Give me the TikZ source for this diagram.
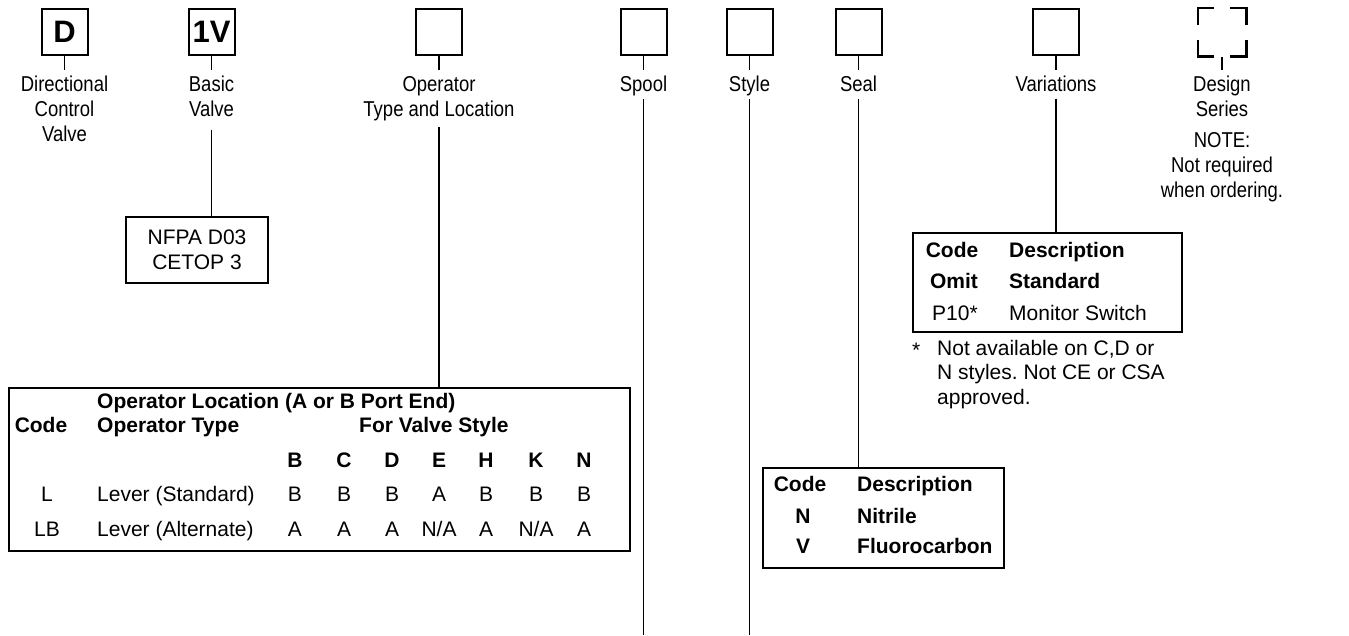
\documentclass[tikz,border=0pt]{standalone}
\usepackage{fontspec}
\setmainfont{Liberation Sans}
\newfontfamily\narrowfont[FakeStretch=0.86]{Liberation Sans}
\newcommand\myst{\rule{0pt}{16pt}}
\frenchspacing
\begin{document}
\begin{tikzpicture}[x=1pt,y=-1pt,
  lbl/.style={anchor=north, inner sep=0pt, align=center, font=\narrowfont\fontsize{21.5}{25}\selectfont},
  codebox/.style={draw, line width=2pt, minimum width=46pt, minimum height=46pt, inner sep=0pt, font=\bfseries\fontsize{31}{31}\selectfont},
  dsbox/.style={minimum width=48pt, minimum height=48pt, inner sep=0pt},
  corner/.style={line width=2.6pt},
  conn/.style={line width=1.9pt},
  tbox/.style={draw, line width=2pt, inner sep=0pt, anchor=north west},
  tx/.style={inner sep=0pt, font=\fontsize{21}{24.5}\selectfont},
  tb/.style={inner sep=0pt, font=\bfseries\fontsize{21}{24.5}\selectfont}]
\fill[white] (0,0) rectangle (1349,635);
\useasboundingbox (0,0) rectangle (1349,635);

% ---- code boxes
\node[codebox] (bD)  at (64.5,31.5) {D};
\node[codebox] (b1V) at (211.5,31.5) {1V};
\node[codebox] (bOp) at (439,31.5) {};
\node[codebox] (bSp) at (643.5,31.5) {};
\node[codebox] (bSt) at (749.5,31.5) {};
\node[codebox] (bSe) at (858.5,31.5) {};
\node[codebox] (bVa) at (1056,31.5) {};
\node[dsbox]   (bDs) at (1222,32) {};
\draw[corner] ([yshift=-17pt]bDs.north west) -- (bDs.north west) -- ([xshift=16pt]bDs.north west);
\draw[corner] ([yshift=-17pt]bDs.north east) -- (bDs.north east) -- ([xshift=-16pt]bDs.north east);
\draw[corner] ([yshift=16pt]bDs.south west) -- (bDs.south west) -- ([xshift=16pt]bDs.south west);
\draw[corner] ([yshift=16pt]bDs.south east) -- (bDs.south east) -- ([xshift=-16pt]bDs.south east);

% ---- labels
\node[lbl] (lD)  at (64.5,75)  {\myst Directional\\Control\\Valve};
\node[lbl] (l1V) at (211.5,75) {\myst Basic\\Valve};
\node[lbl] (lOp) at (439,75)   {\myst Operator\\Type and Location};
\node[lbl] (lSp) at (643.5,75) {\myst Spool};
\node[lbl] (lSt) at (749.5,75) {\myst Style};
\node[lbl] (lSe) at (858.5,75) {\myst Seal};
\node[lbl] (lVa) at (1056,75)  {\myst Variations};
\node[lbl] (lDs) at (1222,75)  {\myst Design\\Series};
\node[lbl] (lNote) at (1222,131) {\myst NOTE:\\Not required\\when ordering.};

% ---- ticks
\foreach \b/\l in {bD/lD,b1V/l1V,bOp/lOp,bSp/lSp,bSt/lSt,bSe/lSe,bVa/lVa}
  \draw[conn] (\b.south) -- ([yshift=5pt]\l.north);
\draw[conn] ([yshift=-1pt]bDs.south) -- ([yshift=5pt]lDs.north);

% ---- NFPA box
\node[tbox, anchor=center, minimum width=142pt, minimum height=66pt, align=center,
      font=\fontsize{21}{25}\selectfont] (nf) at (197,250) {NFPA D03\\CETOP 3};

% ---- Operator table
\node[tbox, minimum width=621pt, minimum height=163pt] (opT) at (8,387) {};
\node[tb, anchor=base west] (opH1) at (97,408) {Operator Location (A or B Port End)};
\node[tb, anchor=base] (opCode) at (41,432) {Code};
\node[tb, anchor=base west] (opType) at (97,432) {Operator Type};
\node[tb, anchor=base west] (opFor) at (359,432) {For Valve Style};
\foreach \x/\c [count=\i] in {295/B,344/C,392/D,439/E,486/H,536/K,584/N}
  \node[tb, anchor=base] (opS\i) at (\x,467) {\c};
\node[tx, anchor=base] (opL) at (47,501) {L};
\node[tx, anchor=base west] (opLd) at (97,501) {Lever (Standard)};
\foreach \x/\c [count=\i] in {295/B,344/B,392/B,439/A,486/B,536/B,584/B}
  \node[tx, anchor=base] (opLv\i) at (\x,501) {\c};
\node[tx, anchor=base] (opLB) at (47,536) {LB};
\node[tx, anchor=base west] (opLBd) at (97,536) {Lever (Alternate)};
\foreach \x/\c [count=\i] in {295/A,344/A,392/A,439/N\slash A,486/A,536/N\slash A,584/A}
  \node[tx, anchor=base] (opLBv\i) at (\x,536) {\c};

% ---- Seal table
\node[tbox, minimum width=241pt, minimum height=100pt] (seT) at (762,467) {};
\node[tb, anchor=base] (seC) at (800,491) {Code};
\node[tb, anchor=base west] (seD) at (857,491) {Description};
\node[tb, anchor=base] (seN) at (803,523) {N};
\node[tb, anchor=base west] (seNd) at (857,523) {Nitrile};
\node[tb, anchor=base] (seV) at (803,553) {V};
\node[tb, anchor=base west] (seVd) at (857,553) {Fluorocarbon};

% ---- Variations table
\node[tbox, minimum width=269pt, minimum height=99pt] (vaT) at (912,232) {};
\node[tb, anchor=base] (vaC) at (952,257) {Code};
\node[tb, anchor=base west] (vaD) at (1009,257) {Description};
\node[tb, anchor=base] (vaO) at (954,288) {Omit};
\node[tb, anchor=base west] (vaOd) at (1009,288) {Standard};
\node[tx, anchor=base] (vaP) at (955,320) {P10*};
\node[tx, anchor=base west] (vaPd) at (1009,320) {Monitor Switch};
\node[tx, anchor=base west] (fnS) at (912,357) {*};
\node[tx, anchor=north west, align=left] (fnT) at (937,339) {\myst Not available on C,D or\\N styles. Not CE or CSA\\approved.};

% ---- long connectors
\coordinate (eSp) at (643.5,635);
\coordinate (eSt) at (749.5,635);
\draw[conn] ([yshift=-13pt]l1V.south) -- (l1V.south |- nf.north);
\draw[conn] ([yshift=-6pt]lOp.south) -- (lOp.south |- opT.north);
\draw[conn] ([yshift=-3pt]lSp.south) -- (eSp);
\draw[conn] ([yshift=-3pt]lSt.south) -- (eSt);
\draw[conn] ([yshift=-7pt]lSe.south) -- (lSe.south |- seT.north);
\draw[conn] ([yshift=-7pt]lVa.south) -- (lVa.south |- vaT.north);
\end{tikzpicture}
\end{document}
